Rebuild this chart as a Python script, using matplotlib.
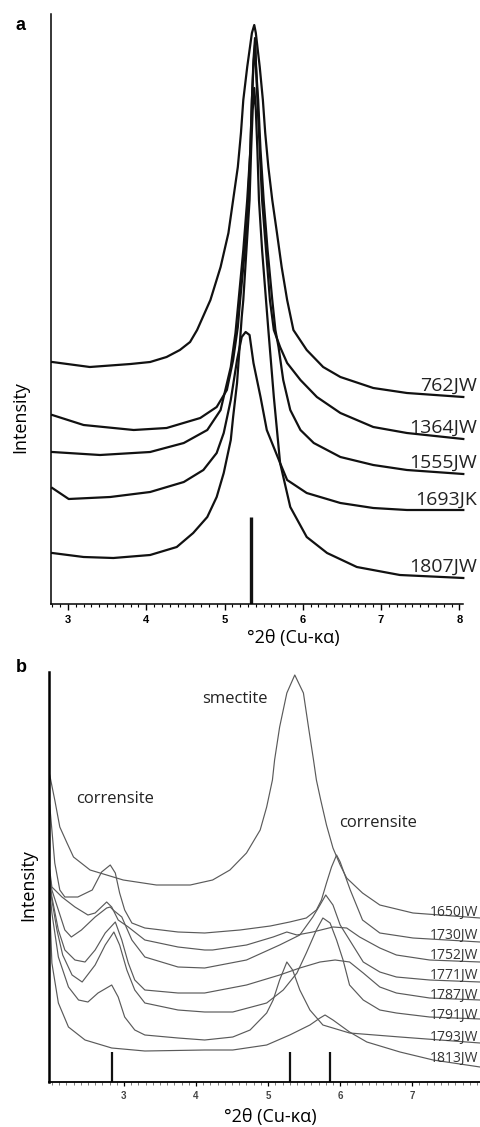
import matplotlib
matplotlib.use("Agg")
import matplotlib.pyplot as plt
from matplotlib.ticker import MultipleLocator, FixedLocator

plt.rcParams['font.family'] = ['Open Sans', 'DejaVu Sans']

# ---------------- Panel a data (x: deg 2theta, y: intensity, arbitrary units) ----------------
a_762JW_x = [2.80, 3.28, 3.80, 4.05, 4.26, 4.43, 4.56, 4.65, 4.82, 4.95, 5.05, 5.11, 5.17, 5.21, 5.24, 5.29,
             5.35, 5.38, 5.40, 5.45, 5.49, 5.52, 5.56, 5.61, 5.67, 5.73, 5.80, 5.88, 6.05, 6.26, 6.48,
             6.90, 7.33, 8.05]
a_762JW_y = [242, 237, 240, 242, 247, 254, 262, 274, 304, 337, 371, 404, 437, 471, 504, 537,
             571, 579, 571, 537, 504, 471, 437, 404, 371, 337, 304, 274, 254, 237, 227,
             216, 211, 207]

a_1364JW_x = [2.80, 3.20, 3.84, 4.26, 4.69, 4.90, 5.03, 5.11, 5.17, 5.20, 5.26, 5.30, 5.33, 5.35, 5.37,
              5.39, 5.40, 5.42, 5.45, 5.48, 5.53, 5.58, 5.63, 5.71, 5.80, 5.97, 6.18, 6.48, 6.90, 7.33, 8.05]
a_1364JW_y = [189, 179, 174, 176, 186, 197, 214, 244, 277, 304, 354, 404, 454, 504, 544,
              566, 544, 504, 454, 404, 354, 304, 274, 257, 241, 224, 207, 191, 177, 171, 165]

a_1555JW_x = [2.80, 3.41, 4.05, 4.48, 4.78, 4.95, 5.08, 5.14, 5.18, 5.24, 5.29, 5.33, 5.35, 5.37,
              5.39, 5.40, 5.43, 5.46, 5.50, 5.55, 5.61, 5.65, 5.69, 5.75, 5.84, 5.97, 6.14, 6.48,
              6.90, 7.33, 8.05]
a_1555JW_y = [152, 149, 152, 161, 174, 194, 237, 271, 304, 354, 404, 454, 504, 539,
              559, 539, 504, 454, 404, 354, 304, 274, 257, 224, 194, 174, 161, 147,
              139, 134, 130]

a_1693JK_x = [2.80, 3.01, 3.54, 4.05, 4.48, 4.73, 4.90, 4.99, 5.08, 5.16, 5.22, 5.27, 5.32, 5.37,
              5.46, 5.54, 5.71, 5.80, 6.05, 6.48, 6.90, 7.33, 8.05]
a_1693JK_y = [116, 105, 107, 112, 122, 134, 151, 171, 204, 244, 267, 272, 269, 241,
              207, 174, 141, 124, 111, 101, 96, 94, 94]

a_1807JW_x = [2.80, 3.20, 3.58, 4.05, 4.39, 4.60, 4.78, 4.90, 4.99, 5.08, 5.11, 5.16, 5.19, 5.22,
              5.24, 5.28, 5.32, 5.34, 5.36, 5.38, 5.40, 5.42, 5.44, 5.48, 5.53, 5.56, 5.63, 5.71,
              5.84, 6.05, 6.31, 6.69, 7.24, 8.05]
a_1807JW_y = [51, 47, 46, 49, 57, 71, 87, 107, 131, 164, 187, 221, 254, 287,
              304, 354, 404, 454, 494, 516, 494, 454, 404, 354, 304, 274, 207, 141,
              97, 67, 51, 37, 29, 26]

a_names = ['762JW', '1364JW', '1555JW', '1693JK', '1807JW']
a_label_y = [213, 171, 136, 99, 32]
a_ref_pos = [5.34]
a_ref_top = [87]
a_xticks = [3, 4, 5, 6, 7, 8]

# ---------------- Panel b data ----------------
b_1650JW_x = [1.97, 2.04, 2.11, 2.21, 2.30, 2.53, 2.99, 3.45, 3.92, 4.23, 4.47, 4.70, 4.89, 4.98,
              5.06, 5.09, 5.16, 5.26, 5.37, 5.49, 5.56, 5.63, 5.67, 5.73, 5.81, 5.90, 6.00, 6.09,
              6.31, 6.55, 7.01, 7.94]
b_1650JW_y = [307, 282, 255, 239, 225, 212, 202, 197, 197, 202, 212, 229, 252, 275,
              302, 322, 355, 389, 407, 389, 355, 322, 302, 282, 257, 234, 217, 204,
              189, 177, 169, 164]

b_1730JW_x = [1.97, 2.00, 2.04, 2.11, 2.18, 2.36, 2.56, 2.69, 2.81, 2.88, 2.94, 3.01, 3.11, 3.29,
              3.75, 4.12, 4.61, 5.03, 5.30, 5.53, 5.67, 5.74, 5.81, 5.88, 5.95, 6.00, 6.04, 6.14,
              6.31, 6.55, 7.01, 7.94]
b_1730JW_y = [277, 252, 219, 192, 185, 185, 192, 210, 217, 209, 189, 172, 159, 154,
              150, 149, 152, 156, 160, 164, 172, 182, 199, 215, 227, 220, 212, 192,
              162, 149, 144, 140]

b_1752JW_x = [1.97, 2.00, 2.14, 2.32, 2.50, 2.60, 2.76, 2.83, 2.92, 3.06, 3.29, 3.75, 4.12, 4.23,
              4.70, 5.07, 5.26, 5.40, 5.62, 5.90, 6.09, 6.27, 6.55, 6.78, 7.24, 7.94]
b_1752JW_y = [212, 195, 185, 175, 167, 169, 180, 175, 162, 155, 142, 135, 132, 132,
              137, 145, 150, 147, 150, 155, 154, 145, 134, 127, 122, 120]

b_1771JW_x = [1.97, 2.00, 2.09, 2.18, 2.27, 2.41, 2.60, 2.76, 2.81, 2.85, 2.97, 3.11, 3.29, 3.75,
              4.12, 4.70, 5.16, 5.44, 5.62, 5.72, 5.80, 5.90, 6.00, 6.13, 6.32, 6.55, 6.78, 7.24, 7.94]
b_1771JW_y = [207, 192, 172, 152, 145, 152, 165, 174, 175, 172, 165, 142, 125, 115,
              114, 122, 137, 147, 165, 177, 187, 177, 157, 142, 120, 110, 105, 102, 100]

b_1787JW_x = [1.97, 2.00, 2.09, 2.18, 2.32, 2.46, 2.60, 2.74, 2.88, 2.97, 3.06, 3.15, 3.29, 3.75,
              4.12, 4.70, 5.16, 5.44, 5.72, 5.93, 6.13, 6.32, 6.55, 6.78, 7.24, 7.94]
b_1787JW_y = [202, 185, 152, 132, 122, 120, 132, 149, 160, 142, 119, 102, 92, 89,
              89, 97, 107, 114, 120, 122, 120, 109, 95, 89, 84, 82]

b_1791JW_x = [1.97, 2.00, 2.07, 2.15, 2.28, 2.42, 2.60, 2.74, 2.86, 2.94, 3.04, 3.15, 3.29, 3.75,
              4.12, 4.51, 4.98, 5.21, 5.40, 5.53, 5.67, 5.76, 5.86, 5.95, 6.04, 6.13, 6.32, 6.55,
              6.78, 7.24, 7.94]
b_1791JW_y = [197, 182, 152, 127, 107, 100, 117, 137, 150, 137, 112, 92, 79, 72,
              70, 70, 79, 92, 109, 129, 152, 164, 159, 142, 122, 97, 82, 72,
              69, 65, 63]

b_1793JW_x = [1.97, 2.00, 2.09, 2.23, 2.37, 2.50, 2.64, 2.83, 2.92, 3.01, 3.15, 3.29, 3.75, 4.12,
              4.51, 4.75, 4.98, 5.07, 5.16, 5.26, 5.34, 5.44, 5.58, 5.76, 6.13, 6.83, 7.94]
b_1793JW_y = [192, 169, 125, 95, 82, 80, 89, 97, 85, 65, 52, 47, 44, 42,
              45, 52, 69, 82, 102, 120, 112, 92, 72, 57, 49, 45, 39]

b_1813JW_x = [1.97, 2.00, 2.09, 2.23, 2.46, 2.83, 3.29, 4.12, 4.51, 4.98, 5.30, 5.58, 5.72, 5.79,
              5.90, 6.13, 6.37, 6.83, 7.29, 7.94]
b_1813JW_y = [177, 119, 79, 55, 42, 34, 31, 32, 32, 37, 47, 57, 64, 67,
              62, 50, 40, 30, 22, 15]

b_names = ['1650JW', '1730JW', '1752JW', '1771JW', '1787JW', '1791JW', '1793JW', '1813JW']
b_label_y = [166, 143, 123, 103, 83, 63, 41, 20]
b_ref_pos = [2.83, 5.31, 5.86]
b_ref_top = [30, 30, 30]
b_xticks = [3, 4, 5, 6, 7]
b_annot_text = ['smectite', 'corrensite', 'corrensite']
b_annot_x = [4.54, 2.88, 6.53]
b_annot_y = [383, 283, 259]

# ---------------- figure ----------------
W, H = 480, 1127
fig = plt.figure(figsize=(W / 100, H / 100), dpi=100)

def frac(px_l, py_t, px_r, py_b):
    return [px_l / W, 1 - py_b / H, (px_r - px_l) / W, (py_b - py_t) / H]

# Panel a
axa = fig.add_axes(frac(50.7, 14, 463.3, 604))
a_series = [(a_762JW_x, a_762JW_y), (a_1364JW_x, a_1364JW_y), (a_1555JW_x, a_1555JW_y),
            (a_1693JK_x, a_1693JK_y), (a_1807JW_x, a_1807JW_y)]
for (xs, ys) in a_series:
    axa.plot(xs, ys, color='#111111', lw=1.6, solid_joinstyle='round', clip_on=False)
for name, ly in zip(a_names, a_label_y):
    axa.text(8.22, ly, name, ha='right', va='baseline', fontsize=14, color='#222222', clip_on=False)
for pos, top in zip(a_ref_pos, a_ref_top):
    axa.plot([pos, pos], [0, top], color='#111111', lw=2.4, solid_capstyle='butt')
axa.set_xlim(2.78, 8.05)
axa.set_ylim(0, 590)
axa.spines['top'].set_visible(False)
axa.spines['right'].set_visible(False)
axa.spines['left'].set_linewidth(1.1)
axa.spines['bottom'].set_linewidth(1.1)
axa.set_yticks([])
axa.xaxis.set_major_locator(FixedLocator(a_xticks))
axa.xaxis.set_minor_locator(MultipleLocator(0.1))
axa.tick_params(axis='x', which='major', direction='out', length=4, width=1.0, pad=4,
                labelsize=8)
axa.tick_params(axis='x', which='minor', direction='out', length=2, width=0.8)
for lab in axa.get_xticklabels():
    lab.set_fontweight('bold')
    lab.set_family(['Liberation Sans', 'DejaVu Sans'])

fig.text(293 / W, 1 - 638 / H, '°2θ (Cu-κα)', ha='center', va='center', fontsize=13)
fig.text(20 / W, 1 - 417 / H, 'Intensity', ha='center', va='center', rotation=90, fontsize=13)
fig.text(21 / W, 1 - 26 / H, 'a', ha='center', va='center', fontsize=13, fontweight='bold',
         family=['Liberation Sans', 'DejaVu Sans'])

# Panel b
axb = fig.add_axes(frac(49, 672, 480, 1082))
b_series = [(b_1650JW_x, b_1650JW_y), (b_1730JW_x, b_1730JW_y), (b_1752JW_x, b_1752JW_y),
            (b_1771JW_x, b_1771JW_y), (b_1787JW_x, b_1787JW_y), (b_1791JW_x, b_1791JW_y),
            (b_1793JW_x, b_1793JW_y), (b_1813JW_x, b_1813JW_y)]
for (xs, ys) in b_series:
    axb.plot(xs, ys, color='#5a5a5a', lw=0.85, clip_on=False)
for name, ly in zip(b_names, b_label_y):
    axb.text(7.91, ly, name, ha='right', va='baseline', fontsize=10, color='#333333')
for pos, top in zip(b_ref_pos, b_ref_top):
    axb.plot([pos, pos], [0, top], color='#111111', lw=1.6, solid_capstyle='butt')
for t, tx, ty in zip(b_annot_text, b_annot_x, b_annot_y):
    axb.text(tx, ty, t, ha='center', va='center', fontsize=12, color='#222222')
axb.set_xlim(1.96, 7.94)
axb.set_ylim(0, 410)
axb.spines['top'].set_visible(False)
axb.spines['right'].set_visible(False)
axb.spines['left'].set_linewidth(1.8)
axb.spines['bottom'].set_linewidth(1.3)
axb.set_yticks([])
axb.xaxis.set_major_locator(FixedLocator(b_xticks))
axb.xaxis.set_minor_locator(MultipleLocator(0.1))
axb.tick_params(axis='x', which='major', direction='out', length=3, width=0.9, pad=3.5,
                labelsize=7, labelcolor='#444444')
axb.tick_params(axis='x', which='minor', direction='out', length=2, width=0.6, color='#666666')
for lab in axb.get_xticklabels():
    lab.set_fontweight('bold')
    lab.set_family(['Liberation Sans', 'DejaVu Sans'])

fig.text(270 / W, 1 - 1117 / H, '°2θ (Cu-κα)', ha='center', va='center', fontsize=13)
fig.text(28 / W, 1 - 885 / H, 'Intensity', ha='center', va='center', rotation=90, fontsize=13)
fig.text(21 / W, 1 - 667 / H, 'b', ha='center', va='center', fontsize=13, fontweight='bold',
         family=['Liberation Sans', 'DejaVu Sans'])

fig.savefig('out.png', dpi=100)
